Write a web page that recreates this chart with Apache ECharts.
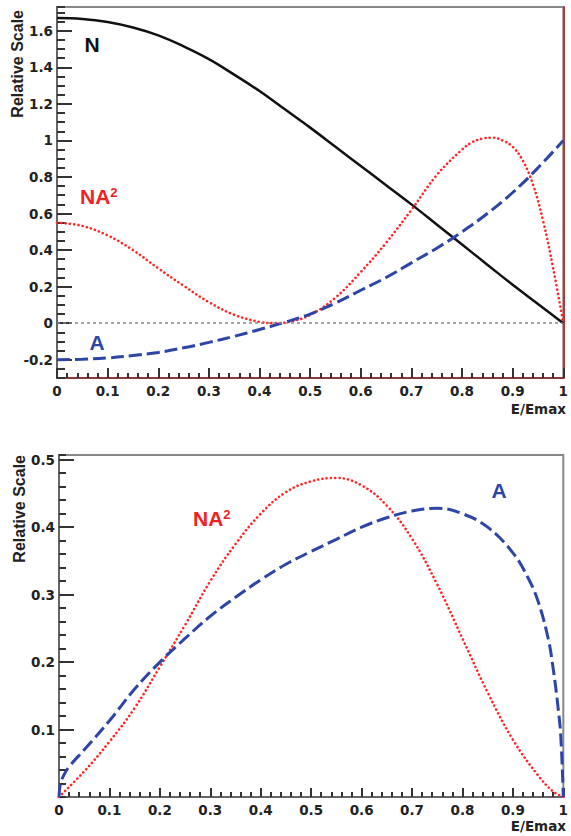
<!DOCTYPE html>
<html>
<head>
<meta charset="utf-8">
<title>Relative Scale vs E/Emax</title>
<script src="https://cdn.jsdelivr.net/npm/echarts@6/dist/echarts.min.js"></script>
<style>
html, body { margin: 0; padding: 0; background: #fff; }
#main { width: 571px; height: 836px; }
</style>
</head>
<body>
<div id="main"></div>
<script>
// ---- upper panel ----
var topNx = [0, 0.05, 0.1, 0.15, 0.2, 0.25, 0.3, 0.35, 0.4, 0.45, 0.5, 0.55, 0.6, 0.65, 0.7, 0.75, 0.8, 0.85, 0.9, 0.95, 1];
var topN  = [1.67, 1.665, 1.648, 1.618, 1.575, 1.515, 1.445, 1.36, 1.27, 1.17, 1.07, 0.965, 0.86, 0.755, 0.65, 0.54, 0.43, 0.32, 0.21, 0.105, 0];

var topNA2x = [0, 0.05, 0.1, 0.15, 0.2, 0.25, 0.3, 0.35, 0.4, 0.43, 0.46, 0.5, 0.55, 0.6, 0.65, 0.7, 0.75, 0.8, 0.82, 0.84, 0.86, 0.88, 0.9, 0.92, 0.94, 0.96, 0.98, 1];
var topNA2  = [0.55, 0.532, 0.48, 0.4, 0.3, 0.205, 0.115, 0.046, 0.007, 0, 0.008, 0.045, 0.14, 0.28, 0.44, 0.62, 0.81, 0.95, 0.99, 1.01, 1.015, 1.0, 0.965, 0.89, 0.76, 0.56, 0.3, 0];

var topAx = [0, 0.05, 0.1, 0.15, 0.2, 0.25, 0.3, 0.35, 0.4, 0.45, 0.5, 0.55, 0.6, 0.65, 0.7, 0.75, 0.8, 0.85, 0.9, 0.95, 1];
var topA  = [-0.2, -0.197, -0.19, -0.177, -0.16, -0.135, -0.105, -0.072, -0.035, 0.005, 0.05, 0.11, 0.18, 0.25, 0.33, 0.41, 0.5, 0.6, 0.715, 0.85, 1.0];

var topYTicks = [-0.2, 0, 0.2, 0.4, 0.6, 0.8, 1, 1.2, 1.4, 1.6];

// ---- lower panel ----
var botNA2x = [0, 0.05, 0.1, 0.15, 0.2, 0.25, 0.3, 0.35, 0.4, 0.45, 0.5, 0.55, 0.6, 0.65, 0.7, 0.75, 0.8, 0.85, 0.9, 0.95, 0.98, 1];
var botNA2  = [0, 0.038, 0.082, 0.132, 0.193, 0.255, 0.32, 0.375, 0.42, 0.452, 0.468, 0.473, 0.462, 0.432, 0.383, 0.315, 0.235, 0.155, 0.085, 0.032, 0.008, 0];

var botAx = [0, 0.003, 0.01, 0.02, 0.05, 0.1, 0.15, 0.2, 0.25, 0.3, 0.35, 0.4, 0.45, 0.5, 0.55, 0.6, 0.65, 0.7, 0.75, 0.8, 0.85, 0.9, 0.93, 0.95, 0.97, 0.98, 0.99, 0.995, 1];
var botA  = [0, 0.02, 0.033, 0.045, 0.07, 0.113, 0.16, 0.2, 0.235, 0.268, 0.296, 0.322, 0.345, 0.364, 0.382, 0.4, 0.414, 0.424, 0.428, 0.42, 0.4, 0.362, 0.325, 0.29, 0.235, 0.19, 0.13, 0.09, 0];

var botYTicks = [0.1, 0.2, 0.3, 0.4, 0.5];

function pairs(xs, ys) {
    return xs.map(function (x, i) { return [x, ys[i]]; });
}

var myChart = echarts.init(document.getElementById('main'), null, { renderer: 'svg' });

var tickColor = '#333';
var labelStyle = { fontFamily: 'DejaVu Sans', fontWeight: 'bold', fontSize: 13.5, color: '#222' };
var fmt = function (v) { return String(Number(v.toFixed(2))); };

var red = '#ff2626';
var blue = '#2e45a8';
var dotted = { color: red, width: 2.6, type: [0.1, 4.2], cap: 'round' };
var dashed = { color: blue, width: 3, type: [13, 5] };

function xAxisOf(grid, lineColor, tickLen, minorLen) {
    return {
        gridIndex: grid, type: 'value', min: 0, max: 1, interval: 0.1,
        axisLine: { show: true, onZero: false, lineStyle: { color: lineColor, width: 2 } },
        axisTick: { show: true, inside: true, length: tickLen, lineStyle: { color: tickColor, width: 2 } },
        minorTick: { show: true, splitNumber: 5, length: minorLen, lineStyle: { color: tickColor, width: 2 } },
        axisLabel: Object.assign({ margin: 6, formatter: fmt }, labelStyle),
        splitLine: { show: false }
    };
}

function yAxisPair(grid, min, max, minorStep, minorLen, majorValues) {
    return [
        // axis line + minor ticks
        {
            gridIndex: grid, type: 'value', position: 'left', min: min, max: max, interval: minorStep,
            axisLine: { show: true, onZero: false, lineStyle: { color: '#666', width: 2 } },
            axisTick: { show: true, inside: true, length: minorLen, lineStyle: { color: tickColor, width: 2 } },
            axisLabel: { show: false }, splitLine: { show: false }
        },
        // major ticks + labels
        {
            gridIndex: grid, type: 'value', position: 'left', min: min, max: max, interval: 0.1,
            axisLine: { show: false },
            axisTick: { show: true, inside: true, length: 15, customValues: majorValues, lineStyle: { color: tickColor, width: 2 } },
            axisLabel: Object.assign({ customValues: majorValues, margin: 4, formatter: fmt }, labelStyle),
            splitLine: { show: false }
        }
    ];
}

var topY = yAxisPair(0, -0.3, 1.73, 0.05, 8, topYTicks);
var botY = yAxisPair(1, 0, 0.507, 0.02, 7, botYTicks);

var option = {
    animation: false,
    grid: [
        { left: 57, top: 7, width: 511, height: 371, show: true, borderColor: '#888', borderWidth: 2 },
        { left: 59, top: 455, width: 510, height: 342, show: true, borderColor: '#888', borderWidth: 2 }
    ],
    xAxis: [
        xAxisOf(0, '#8a3c3c', 10, 5),
        xAxisOf(1, '#666', 9, 5)
    ],
    yAxis: [
        topY[0], topY[1],
        // upper: red right edge
        {
            gridIndex: 0, type: 'value', position: 'right', min: -0.3, max: 1.73, interval: 0.1,
            axisLine: { show: true, onZero: false, lineStyle: { color: '#b03a3a', width: 2 } },
            axisTick: { show: false }, axisLabel: { show: false }, splitLine: { show: false }
        },
        botY[0], botY[1]
    ],
    series: [
        {
            name: 'N', type: 'line', xAxisIndex: 0, yAxisIndex: 0,
            data: pairs(topNx, topN), showSymbol: false, smooth: 0.4,
            lineStyle: { color: '#111', width: 2.5 },
            markLine: {
                silent: true, symbol: ['none', 'none'], label: { show: false },
                lineStyle: { color: '#888', width: 1.5, type: [3, 3] },
                data: [{ yAxis: 0 }]
            }
        },
        {
            name: 'NA2', type: 'line', xAxisIndex: 0, yAxisIndex: 0,
            data: pairs(topNA2x, topNA2), showSymbol: false, smooth: 0.4,
            lineStyle: dotted
        },
        {
            name: 'A', type: 'line', xAxisIndex: 0, yAxisIndex: 0,
            data: pairs(topAx, topA), showSymbol: false, smooth: 0.4,
            lineStyle: dashed
        },
        {
            name: 'NA2 (lower)', type: 'line', xAxisIndex: 1, yAxisIndex: 3,
            data: pairs(botNA2x, botNA2), showSymbol: false, smooth: 0.4,
            lineStyle: dotted
        },
        {
            name: 'A (lower)', type: 'line', xAxisIndex: 1, yAxisIndex: 3,
            data: pairs(botAx, botA), showSymbol: false, smooth: 0.4,
            lineStyle: dashed
        }
    ],
    graphic: [
        // axis titles
        { type: 'text', x: 17, y: 10, rotation: Math.PI / 2,
          style: { text: 'Relative Scale', fill: '#222', font: 'bold 16px "Liberation Sans"', align: 'right', textAlign: 'right', verticalAlign: 'middle', textVerticalAlign: 'middle' } },
        { type: 'text', x: 19, y: 455, rotation: Math.PI / 2,
          style: { text: 'Relative Scale', fill: '#222', font: 'bold 16px "Liberation Sans"', align: 'right', textAlign: 'right', verticalAlign: 'middle', textVerticalAlign: 'middle' } },
        { type: 'text', x: 566, y: 409,
          style: { text: 'E/Emax', fill: '#222', font: 'bold 13.5px "DejaVu Sans"', align: 'right', textAlign: 'right', verticalAlign: 'middle', textVerticalAlign: 'middle' } },
        { type: 'text', x: 566, y: 826,
          style: { text: 'E/Emax', fill: '#222', font: 'bold 13.5px "DejaVu Sans"', align: 'right', textAlign: 'right', verticalAlign: 'middle', textVerticalAlign: 'middle' } },
        // curve labels
        { type: 'text', x: 92, y: 44,
          style: { text: 'N', fill: '#111', font: 'bold 21px "Liberation Sans"', align: 'center', textAlign: 'center', verticalAlign: 'middle', textVerticalAlign: 'middle' } },
        { type: 'text', x: 80, y: 196,
          style: { text: 'NA{s|2}', fill: '#ee2222', font: 'bold 21px "Liberation Sans"', align: 'left', textAlign: 'left', verticalAlign: 'middle', textVerticalAlign: 'middle',
                   rich: { s: { fontSize: 13, fontWeight: 'bold', fontFamily: 'Liberation Sans', fill: '#ee2222', verticalAlign: 'top' } } } },
        { type: 'text', x: 97, y: 342,
          style: { text: 'A', fill: blue, font: 'bold 21px "Liberation Sans"', align: 'center', textAlign: 'center', verticalAlign: 'middle', textVerticalAlign: 'middle' } },
        { type: 'text', x: 193, y: 518,
          style: { text: 'NA{s|2}', fill: '#ee2222', font: 'bold 21px "Liberation Sans"', align: 'left', textAlign: 'left', verticalAlign: 'middle', textVerticalAlign: 'middle',
                   rich: { s: { fontSize: 13, fontWeight: 'bold', fontFamily: 'Liberation Sans', fill: '#ee2222', verticalAlign: 'top' } } } },
        { type: 'text', x: 499, y: 490,
          style: { text: 'A', fill: blue, font: 'bold 21px "Liberation Sans"', align: 'center', textAlign: 'center', verticalAlign: 'middle', textVerticalAlign: 'middle' } }
    ]
};

myChart.setOption(option);
</script>
</body>
</html>
